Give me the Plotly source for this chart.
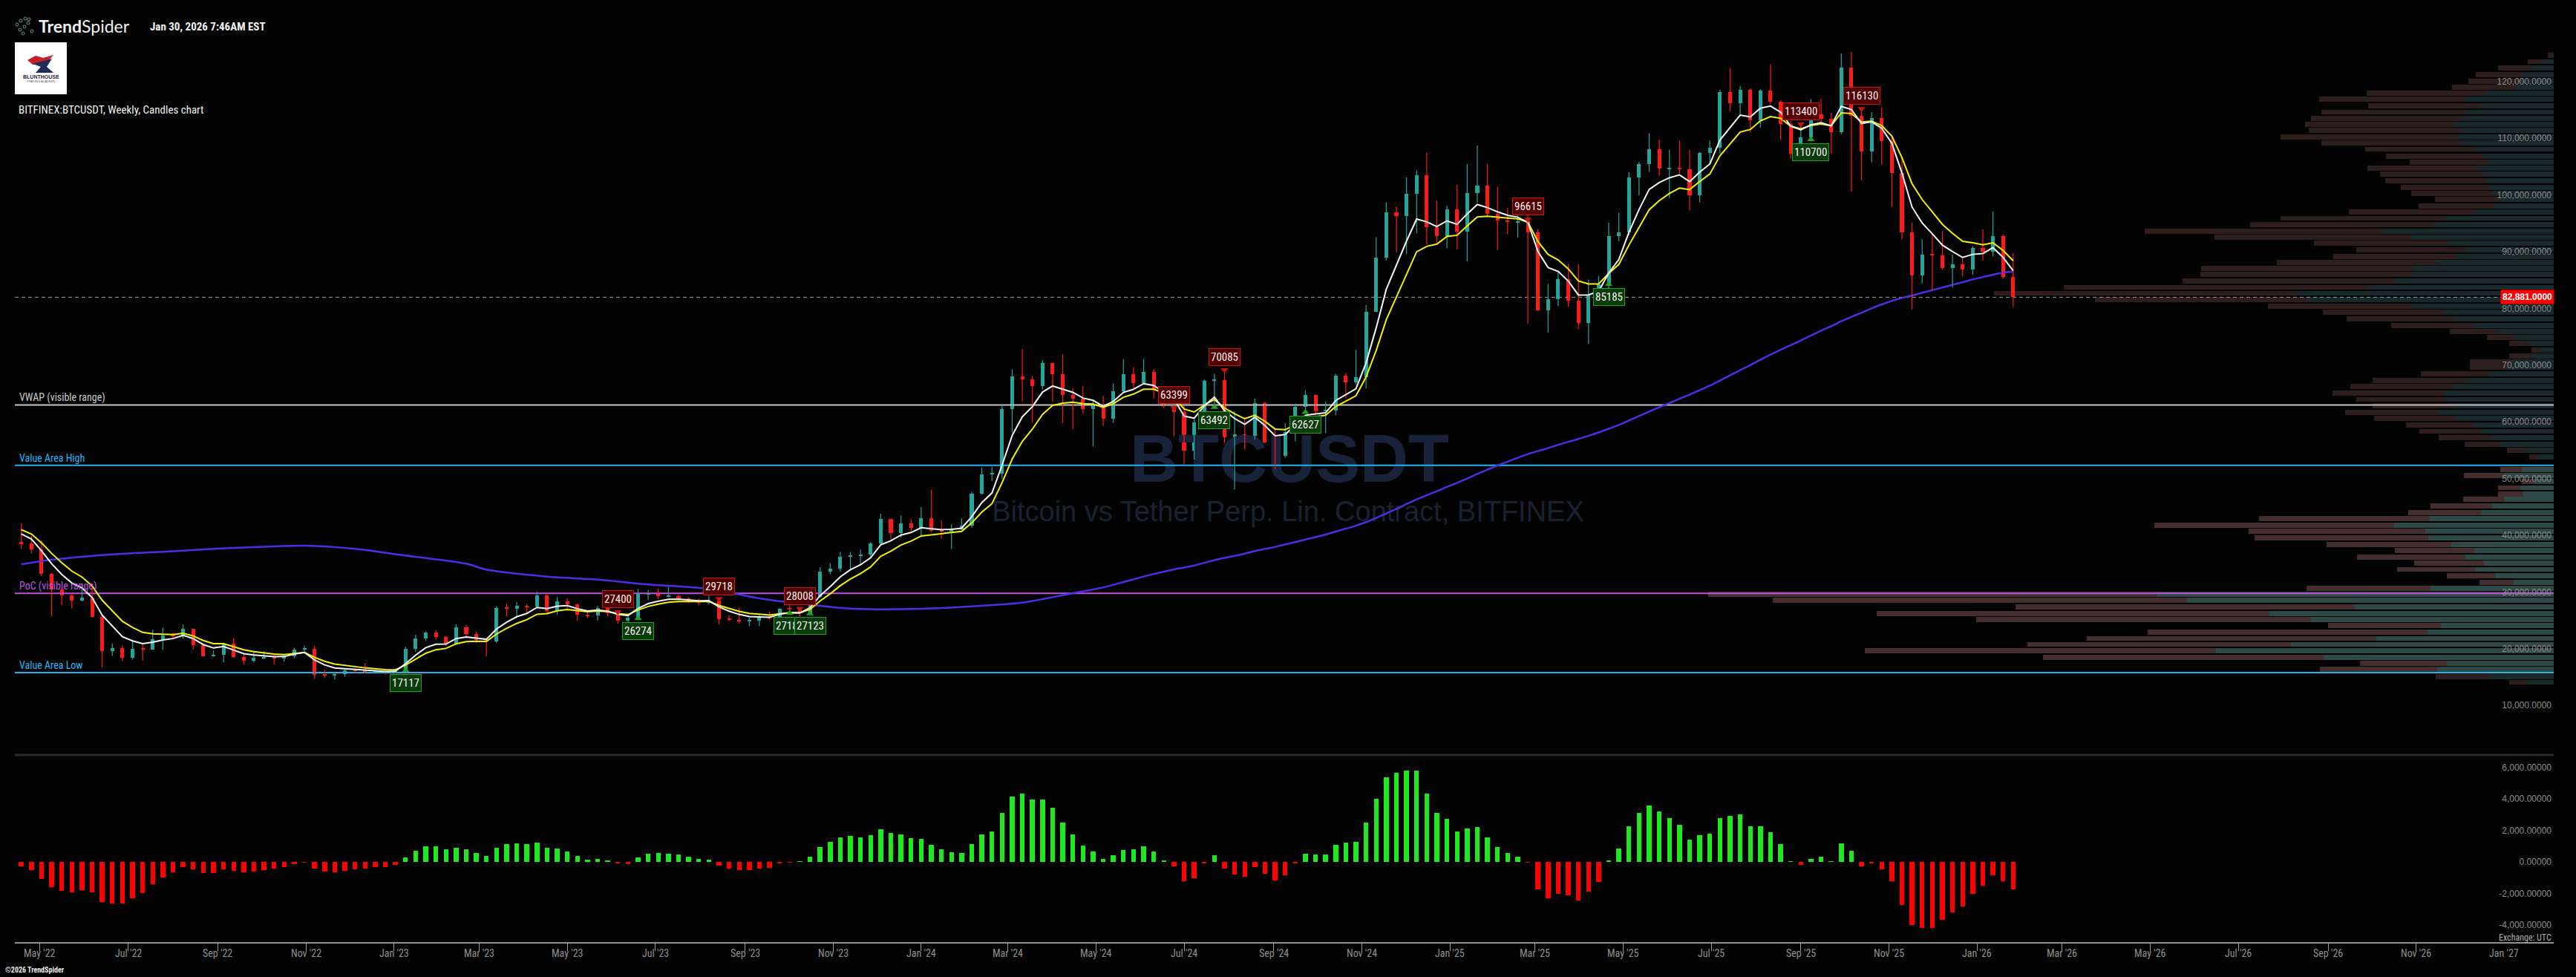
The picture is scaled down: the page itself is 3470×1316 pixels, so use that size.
import datetime as dt
import plotly.graph_objects as go

W, H = 3470, 1316

# ------------------------------------------------------------------ data
week0 = dt.datetime(2022, 4, 18)          # first weekly candle (Monday)

candle_open = [
    39700, 39450, 38470, 34060, 31300, 30290, 29450, 29900, 26580, 20550,
    21030, 19300, 20850, 20790, 22580, 23300, 23180, 24440, 21520, 19550,
    19830, 21830, 19420, 18800, 19310, 19420, 19200, 19570, 20810, 20900,
    16330, 16280, 16450, 17100, 17090, 16750, 16840, 16620, 17130, 20880,
    22790, 23740, 22930, 21780, 24630, 23550, 22430, 22150, 28040, 27990,
    28450, 28330, 30300, 27590, 29230, 28700, 26920, 26750, 28080, 27110,
    25840, 26340, 30540, 30590, 30170, 30250, 29770, 29300, 29050, 29420,
    26090, 26010, 25830, 25840, 26530, 26250, 27990, 27920, 27110, 29990,
    34500, 35020, 37060, 37360, 37450, 39450, 43770, 41370, 42990, 42280,
    43950, 41730, 41580, 42030, 42580, 48300, 51650, 51730, 63110, 68960,
    68390, 67210, 71300, 69360, 65660, 64940, 63120, 63890, 61480, 66270,
    69290, 67750, 69650, 66670, 63700, 62700, 55860, 60790, 68160, 68260,
    58160, 58710, 58430, 64220, 57300, 54870, 59130, 63580, 65600, 62820,
    62860, 69030, 67930, 68770, 80370, 89850, 97900, 97190, 101170, 104460,
    95180, 93710, 98340, 94500, 101250, 102560, 97600, 96460, 96100, 96300,
    94280, 80620, 82500, 86075, 82320, 78350, 83370, 85200, 93620, 94280,
    103960, 106400, 108980, 105530, 105620, 105450, 100910, 108325, 109200, 119060,
    117100, 119450, 114040, 119320, 117315, 113390, 108150, 111075, 115090, 114400,
    112035, 123380, 114870, 108545, 114434, 110420, 104750, 94277, 86773, 90350,
    90300, 88040, 88690, 87820, 91530, 90875, 93710, 86510,
]
candle_high = [
    42976, 40800, 40023, 34244, 31450, 30650, 32400, 31760, 26900, 21870,
    21540, 22500, 21660, 24280, 24670, 23650, 25200, 24450, 21850, 20580,
    21860, 22800, 19960, 20390, 20480, 19950, 19690, 21090, 21480, 21470,
    17190, 16810, 17400, 17430, 18390, 17060, 16970, 17400, 21260, 23370,
    23960, 24240, 23160, 25250, 25120, 23880, 22600, 28400, 28870, 29180,
    28800, 31000, 30550, 30030, 29820, 28850, 27660, 28450, 28450, 27400,
    26800, 31430, 31280, 31500, 31800, 30440, 29990, 29750, 30240, 29690,
    26800, 28140, 26400, 26860, 27490, 28050, 28600, 27990, 30390, 35280,
    35980, 37980, 37980, 38400, 39700, 44700, 43800, 44380, 43800, 45900,
    48970, 43570, 42840, 43880, 48590, 52820, 52980, 64000, 70170, 73780,
    68920, 71770, 71300, 72800, 66870, 67230, 64740, 65500, 67700, 71980,
    70600, 71990, 70190, 67190, 63800, 63800, 61400, 68370, 69400, 70080,
    62750, 61800, 65000, 64480, 59810, 60670, 64130, 66500, 65600, 64480,
    69400, 69520, 73620, 81500, 93480, 99600, 98900, 104000, 105250, 108350,
    99960, 99000, 102700, 106360, 109640, 106360, 102390, 98640, 98640, 98200,
    94900, 85245, 87384, 88820, 88690, 85990, 86640, 96020, 97770, 104966,
    106710, 111815, 110725, 108890, 110510, 108890, 108450, 110510, 119450, 123250,
    120106, 119710, 119580, 123900, 117620, 113910, 113255, 117840, 117840, 115440,
    125865, 126127, 116090, 115525, 116310, 111200, 107585, 96020, 93100, 94060,
    94580, 90440, 89830, 91880, 94845, 97985, 93900, 90655,
]
candle_low = [
    38536, 37700, 33713, 26700, 28630, 28020, 29280, 26560, 17622, 19640,
    18780, 19000, 18910, 20770, 20700, 22650, 22660, 20760, 19530, 19520,
    18540, 19320, 18125, 18470, 19100, 18190, 18650, 19240, 20050, 15588,
    15815, 15476, 15995, 16750, 16530, 16560, 16330, 16600, 17110, 20400,
    22290, 22500, 21350, 21530, 22800, 21970, 19550, 21900, 26600, 26500,
    27200, 28170, 27130, 26940, 27670, 25810, 26340, 25880, 26620, 25350,
    24800, 26260, 29500, 29700, 30000, 29500, 29000, 28580, 28700, 25170,
    25810, 25360, 24900, 24920, 26010, 26000, 27200, 26540, 27000, 29880,
    34080, 34520, 34800, 35630, 36880, 39300, 40200, 40520, 41430, 40750,
    41500, 40280, 38500, 41880, 42260, 48130, 50520, 50900, 59000, 64550,
    60770, 66600, 64490, 60700, 59600, 62400, 56550, 60190, 60750, 66100,
    66600, 67600, 65080, 63350, 58400, 53500, 54260, 60650, 63450, 57120,
    49000, 56080, 57800, 57200, 52550, 54580, 57490, 62700, 59830, 58900,
    62050, 65050, 67500, 66800, 80250, 89380, 90800, 90500, 94150, 92230,
    92500, 91530, 91300, 89170, 99600, 97300, 91220, 94060, 93400, 78265,
    80400, 76608, 81275, 81190, 77260, 74640, 83100, 83370, 92750, 93840,
    100820, 104966, 104310, 100385, 104750, 98200, 99600, 106400, 108240, 115656,
    114990, 111950, 112730, 116880, 110640, 107370, 107370, 110860, 113255, 108240,
    111640, 101477, 103525, 106668, 106275, 98860, 93055, 80752, 85334, 84025,
    87730, 84590, 86510, 86860, 89390, 90130, 86200, 81190,
]
candle_close = [
    39450, 38470, 34060, 31300, 30290, 29450, 29900, 26580, 20550, 21030,
    19300, 20850, 20790, 22580, 23300, 23180, 24440, 21520, 19550, 19830,
    21830, 19420, 18800, 19310, 19420, 19200, 19570, 20810, 20900, 16330,
    16280, 16450, 17100, 17090, 16750, 16840, 16620, 17130, 20880, 22790,
    23740, 22930, 21780, 24630, 23550, 22430, 22150, 28040, 27990, 28450,
    28330, 30300, 27590, 29230, 28700, 26920, 26750, 28080, 27110, 25840,
    26340, 30540, 30590, 30170, 30250, 29770, 29300, 29050, 29420, 26090,
    26010, 25830, 25840, 26530, 26250, 27990, 27920, 27110, 29990, 34500,
    35020, 37060, 37360, 37450, 39450, 43770, 41370, 42990, 42280, 43950,
    41730, 41580, 42030, 42580, 48300, 51650, 51730, 63110, 68960, 68390,
    67210, 71300, 69360, 65660, 64940, 63120, 63890, 61480, 66270, 69290,
    67750, 69650, 66670, 63700, 62700, 55860, 60790, 68160, 68260, 58160,
    58710, 58430, 64220, 57300, 54870, 59130, 63580, 65600, 62820, 62860,
    69030, 67930, 68770, 80370, 89850, 97900, 97190, 101170, 104460, 95180,
    93710, 98340, 94500, 101250, 102560, 97600, 96460, 96100, 96300, 94280,
    80620, 82500, 86075, 82320, 78350, 83370, 85200, 93620, 94280, 103960,
    106400, 108980, 105530, 105620, 105450, 100910, 108325, 109200, 119060, 117100,
    119450, 114040, 119320, 117315, 113390, 108150, 111075, 115090, 114400, 112035,
    123380, 114870, 108545, 114434, 110420, 104750, 94277, 86773, 90350, 90300,
    88040, 88690, 87820, 91530, 90875, 93710, 86510, 82881,
]

# oscillator histogram (lower panel), one value per week
osc_hist = [
    -267, -503, -1069, -1588, -1824, -1918, -1792, -1918, -2547, -2625,
    -2625, -2295, -1981, -1415, -975, -645, -314, -456, -692, -692,
    -472, -550, -645, -597, -503, -409, -314, -126, -20, -409,
    -597, -645, -550, -456, -409, -314, -314, -189, 283, 707,
    990, 990, 802, 896, 802, 566, 377, 896, 1132, 1179,
    1132, 1226, 896, 849, 660, 377, 141, 189, 94, -94,
    -126, 283, 519, 566, 519, 472, 330, 189, 141, -220,
    -409, -503, -503, -409, -362, -94, -10, 10, 330, 943,
    1273, 1556, 1651, 1556, 1698, 2075, 1839, 1745, 1509, 1462,
    1085, 802, 613, 566, 1132, 1745, 1934, 3113, 4150, 4339,
    3961, 3961, 3443, 2499, 1745, 1038, 660, 189, 424, 755,
    802, 990, 660, 94, -267, -1210, -1022, -79, 424, -409,
    -786, -927, -314, -739, -1163, -833, -79, 519, 472, 472,
    1085, 1226, 1273, 2499, 4009, 5376, 5659, 5801, 5801, 4339,
    3113, 2735, 1934, 2122, 2216, 1556, 943, 566, 330, -30,
    -1745, -2311, -2028, -2122, -2452, -1886, -1273, 94, 849, 2264,
    3113, 3584, 3207, 2782, 2358, 1415, 1698, 1792, 2782, 2924,
    3018, 2264, 2264, 1886, 1132, 47, -189, 189, 330, 47,
    1179, 707, -283, -94, -472, -1226, -2735, -4000, -4200, -4200,
    -3678, -3207, -2830, -2028, -1509, -849, -1226, -1745,
]

# 100-week moving average read off the chart where the history needed for it is not shown
ma100_read_week = [0, 3, 9, 14, 19, 25, 28, 33, 38, 44, 46, 52, 57, 62, 68, 73, 79, 82, 89, 96]
ma100_read_value = [35800, 36600, 37550, 38000, 38520, 38950, 39080, 38520, 37340, 35900,
                    34860, 33630, 33100, 32240, 31450, 29790, 28480, 28000, 27960, 28610]
ema_fast_len, ema_slow_len = 5, 8
ema_fast_start, ema_slow_start = 42000, 42600     # values of the lines at the left edge

vwap_level = 63900
vah_level = 53250
poc_level = 30660
val_level = 16700
last_price = 82881

pivot_week = [38, 59, 61, 69, 76, 77, 78, 114, 118, 119, 127, 149, 157, 176, 177, 182]
pivot_value = [17117, 27400, 26274, 29718, 27182, 28008, 27123, 63399, 63492, 70085,
               62627, 96615, 85185, 113400, 110700, 116130]
pivot_kind = ["low", "high", "low", "high", "low", "high", "low", "high", "low", "high",
              "low", "high", "low", "high", "low", "high"]

x_tick_dates = ["2022-05-01", "2022-07-01", "2022-09-01", "2022-11-01", "2023-01-01", "2023-03-01",
                "2023-05-01", "2023-07-01", "2023-09-01", "2023-11-01", "2024-01-01", "2024-03-01",
                "2024-05-01", "2024-07-01", "2024-09-01", "2024-11-01", "2025-01-01", "2025-03-01",
                "2025-05-01", "2025-07-01", "2025-09-01", "2025-11-01", "2026-01-01", "2026-03-01",
                "2026-05-01", "2026-07-01", "2026-09-01", "2026-11-01", "2027-01-01"]
x_tick_text = ["May '22", "Jul '22", "Sep '22", "Nov '22", "Jan '23", "Mar '23",
               "May '23", "Jul '23", "Sep '23", "Nov '23", "Jan '24", "Mar '24",
               "May '24", "Jul '24", "Sep '24", "Nov '24", "Jan '25", "Mar '25",
               "May '25", "Jul '25", "Sep '25", "Nov '25", "Jan '26", "Mar '26",
               "May '26", "Jul '26", "Sep '26", "Nov '26", "Jan '27"]
price_ticks = [10000, 20000, 30000, 40000, 50000, 60000, 70000, 80000, 90000, 100000, 110000, 120000]
osc_ticks = [-4000, -2000, 0, 2000, 4000, 6000]

# visible-range volume profile (price bin, relative volume, share traded down)
vp_price = [125550, 124430, 123300, 122150, 121010, 119950, 118820, 117775, 116650, 115525,
            114465, 113340, 112290, 111165, 110105, 108980, 107775, 106730, 105600, 104555,
            103420, 102290, 101165, 100120, 98995, 97870, 96810, 95685, 94560, 93510,
            92385, 91250, 90120, 89070, 87945, 86900, 85760, 84635, 83585, 82460,
            81335, 80210, 79085, 77950, 76900, 75800, 74700, 73600, 72500, 71450,
            70510, 69385, 68260, 67135, 66010, 64870, 63745, 62620, 61495, 60370,
            59245, 58120, 56990, 55860, 54730, 52500, 51400, 50420, 49290, 48160,
            47210, 46090, 44960, 43840, 42710, 41585, 40460, 39335, 38210, 37085,
            36025, 34895, 33770, 32645, 31585, 30460, 29410, 28285, 27160, 26035,
            24975, 23850, 22725, 21675, 20550, 19425, 18300, 17240, 16040, 15000]
vp_volume = [8, 35, 75, 105, 115, 137, 252, 316, 250, 313,
             327, 335, 330, 368, 313, 254, 226, 194, 251, 234,
             227, 206, 192, 160, 182, 276, 368, 409, 551, 457,
             323, 266, 297, 373, 475, 476, 500, 660, 754, 618,
             385, 311, 279, 219, 140, 90, 60, 30, 60, 113,
             113, 179, 244, 274, 298, 266, 244, 281, 242, 199,
             181, 155, 120, 63, 33, 72, 121, 43, 75, 75,
             122, 166, 196, 397, 538, 411, 403, 306, 214, 265,
             188, 211, 144, 100, 333, 1139, 1052, 725, 912, 778,
             304, 547, 629, 709, 928, 688, 261, 315, 159, 60]
vp_down_share = [0.6, 0.6, 0.6, 0.6, 0.62, 0.62, 0.64, 0.62, 0.6, 0.62,
                 0.62, 0.6, 0.62, 0.65, 0.6, 0.58, 0.58, 0.55, 0.58, 0.6,
                 0.6, 0.58, 0.56, 0.55, 0.56, 0.6, 0.6, 0.6, 0.58, 0.58,
                 0.56, 0.55, 0.56, 0.58, 0.6, 0.6, 0.57, 0.62, 0.54, 0.46,
                 0.5, 0.52, 0.52, 0.5, 0.45, 0.4, 0.4, 0.4, 0.5, 0.45,
                 0.45, 0.5, 0.52, 0.5, 0.5, 0.45, 0.45, 0.45, 0.45, 0.45,
                 0.45, 0.45, 0.4, 0.4, 0.4, 0.4, 0.45, 0.4, 0.4, 0.45,
                 0.45, 0.5, 0.5, 0.58, 0.6, 0.58, 0.58, 0.55, 0.5, 0.55,
                 0.5, 0.5, 0.45, 0.45, 0.5, 0.53, 0.53, 0.63, 0.58, 0.58,
                 0.5, 0.69, 0.62, 0.5, 0.51, 0.55, 0.45, 0.5, 0.45, 0.4]

# ------------------------------------------------------------------ geometry (pixels)
PX_L, PX_R = 20, 3440                 # plot left / right edge
PX_WEEK0, PX_PER_WEEK = 28.7, 13.62   # centre of first candle, spacing
PX_REF, PX_PER_USD = 400.4, 0.00764   # pixel row of the last price, pixels per USD
PX_MAIN_BOT, PX_IND_BOT = 1017, 1269
PX_IND_ZERO, PX_PER_UNIT = 1161, 42.4 / 2000

DAY_MS = 86400000
MS_PER_PX = 7 * DAY_MS / PX_PER_WEEK


def date_at_px(px):
    return week0 + dt.timedelta(days=7 * (px - PX_WEEK0) / PX_PER_WEEK)


def price_at_px(py):
    return last_price + (PX_REF - py) / PX_PER_USD


def osc_at_px(py):
    return (PX_IND_ZERO - py) / PX_PER_UNIT


def fx(px):
    return px / W


def fy(py):
    return 1 - py / H


n = len(candle_close)
dates = [week0 + dt.timedelta(days=7 * i) for i in range(n)]

UP, DOWN = "#26a69a", "#ff1a1a"
NARROW = "Liberation Sans Narrow, Arial Narrow, Roboto Condensed, sans-serif"
SANS = "Liberation Sans, Arial, sans-serif"
BG = "#030303"

traces = []

# watermark (first so it sits behind everything)
traces.append(go.Scatter(x=[date_at_px(1737)], y=[price_at_px(626)], mode="text",
                         text=["<b>BTCUSDT</b>"], textposition="middle center",
                         textfont=dict(family=SANS, size=90, color="#18233a"), hoverinfo="skip"))
traces.append(go.Scatter(x=[date_at_px(1735)], y=[price_at_px(692)], mode="text",
                         text=["Bitcoin vs Tether Perp. Lin. Contract, BITFINEX"],
                         textposition="middle center",
                         textfont=dict(family=SANS, size=38, color="#1a2231"), hoverinfo="skip"))

# volume profile, anchored to the right edge
right_edge = date_at_px(PX_R)
sell_base, sell_len, sell_col = [], [], []
buy_base, buy_len, buy_col = [], [], []
for p, v, s in zip(vp_price, vp_volume, vp_down_share):
    in_va = val_level <= p <= vah_level
    tot = v * MS_PER_PX
    buy = v * (1 - s) * MS_PER_PX
    sell_base.append(right_edge - dt.timedelta(milliseconds=tot))
    sell_len.append(tot - buy)
    sell_col.append("#452e2e" if in_va else "#2f1e1e")
    buy_base.append(right_edge - dt.timedelta(milliseconds=buy))
    buy_len.append(buy)
    buy_col.append("#2f4a46" if in_va else "#19292c")
traces.append(go.Bar(orientation="h", y=vp_price, x=sell_len, base=sell_base, width=900,
                     marker=dict(color=sell_col, line=dict(width=0)), hoverinfo="skip"))
traces.append(go.Bar(orientation="h", y=vp_price, x=buy_len, base=buy_base, width=900,
                     marker=dict(color=buy_col, line=dict(width=0)), hoverinfo="skip"))

# horizontal levels
x_span = [date_at_px(PX_L), date_at_px(PX_R)]
for lvl, col in [(vwap_level, "#c4c4c4"), (vah_level, "#1fb4f0"),
                 (poc_level, "#c24fe0"), (val_level, "#1fb4f0")]:
    traces.append(go.Scatter(x=x_span, y=[lvl, lvl], mode="lines",
                             line=dict(color=col, width=2), hoverinfo="skip"))
traces.append(go.Scatter(x=x_span, y=[last_price, last_price], mode="lines",
                         line=dict(color="#9a9a9a", width=1, dash="5px,4px"), hoverinfo="skip"))

# 100-week moving average
ma_x = [dates[i] for i in ma100_read_week]
ma_y = list(ma100_read_value)
for i in range(99, n):
    ma_x.append(dates[i])
    ma_y.append(sum(candle_close[i - 99:i + 1]) / 100)
traces.append(go.Scatter(x=ma_x, y=ma_y, mode="lines", line=dict(color="#4b2ee6", width=2.5, shape="spline"),
                         hoverinfo="skip"))

# candles: wicks then bodies
for want_up, col in [(True, UP), (False, DOWN)]:
    wx, wy, bx, by, bb = [], [], [], [], []
    for i in range(n):
        up = candle_close[i] >= candle_open[i]
        if up != want_up:
            continue
        wx += [dates[i], dates[i], None]
        wy += [candle_low[i], candle_high[i], None]
        lo = min(candle_open[i], candle_close[i])
        hi = max(candle_open[i], candle_close[i])
        bx.append(dates[i])
        bb.append(lo)
        by.append(max(hi - lo, 140))
    traces.append(go.Scatter(x=wx, y=wy, mode="lines", line=dict(color=col, width=1.2), hoverinfo="skip"))
    traces.append(go.Bar(x=bx, y=by, base=bb, width=2.6 * DAY_MS,
                         marker=dict(color=col, line=dict(width=0)), hoverinfo="skip"))


def ema(vals, length, start):
    a = 2 / (length + 1)
    out, prev = [], start
    for v in vals:
        prev = prev + a * (v - prev)
        out.append(prev)
    return out


traces.append(go.Scatter(x=dates, y=ema(candle_close, ema_slow_len, ema_slow_start), mode="lines",
                         line=dict(color="#f2f200", width=2), hoverinfo="skip"))
traces.append(go.Scatter(x=dates, y=ema(candle_close, ema_fast_len, ema_fast_start), mode="lines",
                         line=dict(color="#f4f4f4", width=2), hoverinfo="skip"))

# oscillator histogram
gx = [d for d, v in zip(dates, osc_hist) if v >= 0]
gy = [v for v in osc_hist if v >= 0]
rx = [d for d, v in zip(dates, osc_hist) if v < 0]
ry = [v for v in osc_hist if v < 0]
traces.append(go.Bar(x=gx, y=gy, yaxis="y2", width=3.3 * DAY_MS,
                     marker=dict(color="#1ee81e", line=dict(width=0)), hoverinfo="skip"))
traces.append(go.Bar(x=rx, y=ry, yaxis="y2", width=3.3 * DAY_MS,
                     marker=dict(color="#ff0000", line=dict(width=0)), hoverinfo="skip"))

# pivot pointers
for kind, sym, col in [("high", "triangle-down", "#c41414"), ("low", "triangle-up", "#22a022")]:
    px_ = [dates[w] for w, k in zip(pivot_week, pivot_kind) if k == kind]
    py_ = [v for v, k in zip(pivot_value, pivot_kind) if k == kind]
    traces.append(go.Scatter(x=px_, y=py_, mode="markers",
                             marker=dict(symbol=sym, size=9, color=col), hoverinfo="skip"))

fig = go.Figure(traces)

ann = []
for w, v, k in zip(pivot_week, pivot_value, pivot_kind):
    hi = k == "high"
    ann.append(dict(x=dates[w], y=v, xref="x", yref="y", text=str(v), showarrow=False,
                    yshift=17 if hi else -17,
                    bgcolor="#520000" if hi else "#0b3a0b",
                    bordercolor="#c41414" if hi else "#22a022", borderwidth=1, borderpad=2,
                    font=dict(family=NARROW, size=15, color="#f2f2f2")))

for txt, lvl, col in [("VWAP (visible range)", vwap_level, "#c8c8c8"),
                      ("Value Area High", vah_level, "#29b6f6"),
                      ("PoC (visible range)", poc_level, "#c055e0"),
                      ("Value Area Low", val_level, "#29b6f6")]:
    ann.append(dict(x=fx(24), y=lvl, xref="paper", yref="y", text=txt, showarrow=False,
                    xanchor="left", yanchor="middle", yshift=10,
                    font=dict(family=NARROW, size=14, color=col)))

# date labels under the time axis
for d, t in zip(x_tick_dates, x_tick_text):
    ann.append(dict(x=d, y=fy(1284), xref="x", yref="paper", text=t, showarrow=False,
                    xanchor="center", yanchor="middle",
                    font=dict(family=NARROW, size=14, color="#8f8f8f")))

ann.append(dict(x=fx(3441), y=last_price, xref="paper", yref="y", text=f"<b>{last_price:,.4f}</b>",
                showarrow=False, xanchor="right", yanchor="middle", bgcolor="#ff0000", borderpad=2,
                font=dict(family=SANS, size=12, color="#ffffff")))
ann.append(dict(x=fx(3439), y=fy(1263), xref="paper", yref="paper", text="Exchange: UTC",
                showarrow=False, xanchor="right", yanchor="middle",
                font=dict(family=NARROW, size=12, color="#b0b0b0")))
ann.append(dict(x=fx(50), y=fy(35), xref="paper", yref="paper",
                text="<b>Trend</b>Spider", showarrow=False, xanchor="left", yanchor="middle",
                font=dict(family="Lato, sans-serif", size=23, color="#f0f0f0")))
ann.append(dict(x=fx(200), y=fy(36), xref="paper", yref="paper",
                text="<b>Jan 30, 2026 7:46AM EST</b>", showarrow=False, xanchor="left", yanchor="middle",
                font=dict(family=NARROW, size=15, color="#f0f0f0")))
ann.append(dict(x=fx(23), y=fy(148), xref="paper", yref="paper",
                text="BITFINEX:BTCUSDT, Weekly, Candles chart", showarrow=False, xanchor="left",
                yanchor="middle", font=dict(family=NARROW, size=15, color="#f0f0f0")))
ann.append(dict(x=fx(5), y=fy(1306), xref="paper", yref="paper", text="<b>©2026 TrendSpider</b>",
                showarrow=False, xanchor="left", yanchor="middle",
                font=dict(family=NARROW, size=10, color="#e8e8e8")))
ann.append(dict(x=fx(55), y=fy(103), xref="paper", yref="paper", text="<b>BLUNTHOUSE</b>",
                showarrow=False, xanchor="center", yanchor="middle",
                font=dict(family=SANS, size=7, color="#2a2a3a")))
ann.append(dict(x=fx(55), y=fy(109), xref="paper", yref="paper", text="TRADING ACADEMY",
                showarrow=False, xanchor="center", yanchor="middle",
                font=dict(family=SANS, size=4, color="#555566")))


def path_px(pts):
    return "M " + " L ".join(f"{fx(x)},{fy(y)}" for x, y in pts) + " Z"


shapes = [
    dict(type="line", xref="paper", yref="paper", x0=fx(PX_L), x1=fx(PX_R), y0=fy(PX_MAIN_BOT),
         y1=fy(PX_MAIN_BOT), line=dict(color="#2a2a2a", width=3)),
    dict(type="rect", xref="paper", yref="paper", x0=fx(20), x1=fx(90), y0=fy(127), y1=fy(57),
         fillcolor="#ffffff", line=dict(width=0)),
    dict(type="path", xref="paper", yref="paper",
         path=path_px([(37, 81), (48, 75), (58, 78), (72, 74), (65, 82), (55, 86), (44, 87)]),
         fillcolor="#c81e28", line=dict(width=0)),
    dict(type="path", xref="paper", yref="paper",
         path=path_px([(44, 86), (70, 79), (63, 90), (72, 98), (48, 98), (55, 90)]),
         fillcolor="#222a5a", line=dict(width=0)),
]
for cx, cy in [(23, 33), (28, 28), (34, 25), (39, 26), (27, 40), (33, 36), (38, 31), (43, 42), (31, 45)]:
    shapes.append(dict(type="circle", xref="paper", yref="paper", x0=fx(cx - 2), x1=fx(cx + 2),
                       y0=fy(cy + 2), y1=fy(cy - 2), line=dict(color="#6f9090", width=1)))

fig.update_layout(
    width=W, height=H, margin=dict(l=0, r=0, t=0, b=0, pad=0),
    paper_bgcolor=BG, plot_bgcolor=BG, showlegend=False,
    barmode="overlay", bargap=0,
    annotations=ann, shapes=shapes,
    xaxis=dict(type="date", domain=[fx(PX_L), fx(PX_R)], range=[date_at_px(PX_L), date_at_px(PX_R)],
               anchor="y2", tickmode="array", tickvals=x_tick_dates, showticklabels=False,
               ticks="outside", ticklen=10, tickwidth=1, tickcolor="#9a9a9a",
               showline=True, linecolor="#8f8f8f", linewidth=2, showgrid=False, zeroline=False,
               rangeslider=dict(visible=False), fixedrange=True),
    yaxis=dict(domain=[fy(PX_MAIN_BOT), 1], range=[price_at_px(PX_MAIN_BOT), price_at_px(0)],
               anchor="x", side="right", ticklabelposition="inside", tickmode="array",
               tickvals=price_ticks, ticktext=[f"{v:,.4f}" for v in price_ticks],
               ticks="", showgrid=False, zeroline=False, showline=False, ticklabelshift=-7,
               tickfont=dict(family=SANS, size=12, color="#8c8c8c"), fixedrange=True),
    yaxis2=dict(domain=[fy(PX_IND_BOT), fy(PX_MAIN_BOT)], range=[osc_at_px(PX_IND_BOT), osc_at_px(PX_MAIN_BOT)],
                anchor="x", side="right", ticklabelposition="inside", tickmode="array",
                tickvals=osc_ticks, ticktext=[f"{v:,.5f}" for v in osc_ticks],
                ticks="", showgrid=False, zeroline=False, showline=False,
                tickfont=dict(family=SANS, size=12, color="#8c8c8c"), fixedrange=True),
)

fig.write_html(
    "out.html",
    config={"displayModeBar": False},
    post_script="document.body.style.margin='0';document.body.style.overflow='hidden';"
                "document.documentElement.style.overflow='hidden';",
)
